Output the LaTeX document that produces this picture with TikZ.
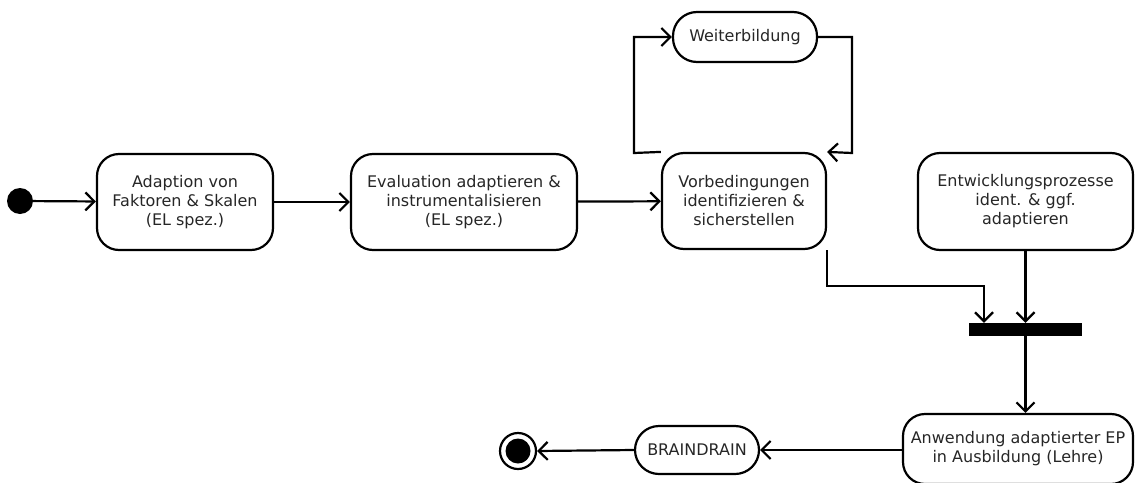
\documentclass[tikz,border=0pt]{standalone}
\usepackage{fontspec}
\setmainfont{DejaVu Sans}
\usetikzlibrary{arrows.meta}
\begin{document}
\begin{tikzpicture}[x=1pt,y=-1pt,
  act/.style={draw,line width=2.2pt,rounded corners=22pt,align=center,inner sep=0pt,
    font=\fontsize{16}{19}\selectfont,text=black!85},
  pill/.style={draw,line width=2.2pt,rounded corners=24pt,align=center,inner sep=0pt,
    font=\fontsize{16}{19}\selectfont,text=black!85},
  flow/.style={line width=2.2pt,-{Straight Barb[length=9pt,width=18pt,line width=2.2pt]}}]
\useasboundingbox (0,0) rectangle (1145,482);
\node[circle,fill=black,minimum size=26pt,inner sep=0pt] (start) at (20,201) {};
\node[act,minimum width=176pt,minimum height=96pt] (A) at (185,202) {Adaption von\\Faktoren \& Skalen\\(EL spez.)};
\node[act,minimum width=226pt,minimum height=96pt] (B) at (464,202) {Evaluation adaptieren \&\\instrumentalisieren\\(EL spez.)};
\node[act,minimum width=164pt,minimum height=96pt] (C) at (744,201) {Vorbedingungen\\identifizieren \&\\sicherstellen};
\node[pill,minimum width=144pt,minimum height=50pt] (W) at (745,37) {Weiterbildung};
\node[act,minimum width=215pt,minimum height=97pt] (D) at (1025.5,201.5) {Entwicklungsprozesse\\ident. \& ggf.\\adaptieren};
\node[fill=black,minimum width=113pt,minimum height=13pt,inner sep=0pt] (bar) at (1025.5,329.5) {};
\node[act,minimum width=230pt,minimum height=70pt] (E) at (1018,449) {Anwendung adaptierter EP\\in Ausbildung (Lehre)};
\node[pill,minimum width=124pt,minimum height=48pt] (BD) at (697,450) {BRAINDRAIN};
\node[circle,draw,line width=2.2pt,minimum size=36pt,inner sep=0pt] (end) at (518,451) {};
\node[circle,fill=black,minimum size=25pt,inner sep=0pt] at (end) {};
\coordinate (lp1) at (634,153);
\coordinate (lp2) at (852,153);
\coordinate (j1) at (984,0);
\draw[flow] (start) -- (A);
\draw[flow] (A) -- (B);
\draw[flow] (B) -- (C);
\draw[flow] (C.north west) -- (lp1) |- (W.west);
\draw[flow] (W.east) -| (lp2) -- (C.north east);
\draw[flow] (C.south east) |- (984,286) -- (j1 |- bar.north);
\draw[flow] (D.south -| bar) -- (bar.north);
\draw[flow] (bar.south) -- (E.north -| bar);
\draw[flow] (E.west |- BD) -- (BD.east);
\draw[flow] (BD.west) -- (end.east);
\end{tikzpicture}
\end{document}
